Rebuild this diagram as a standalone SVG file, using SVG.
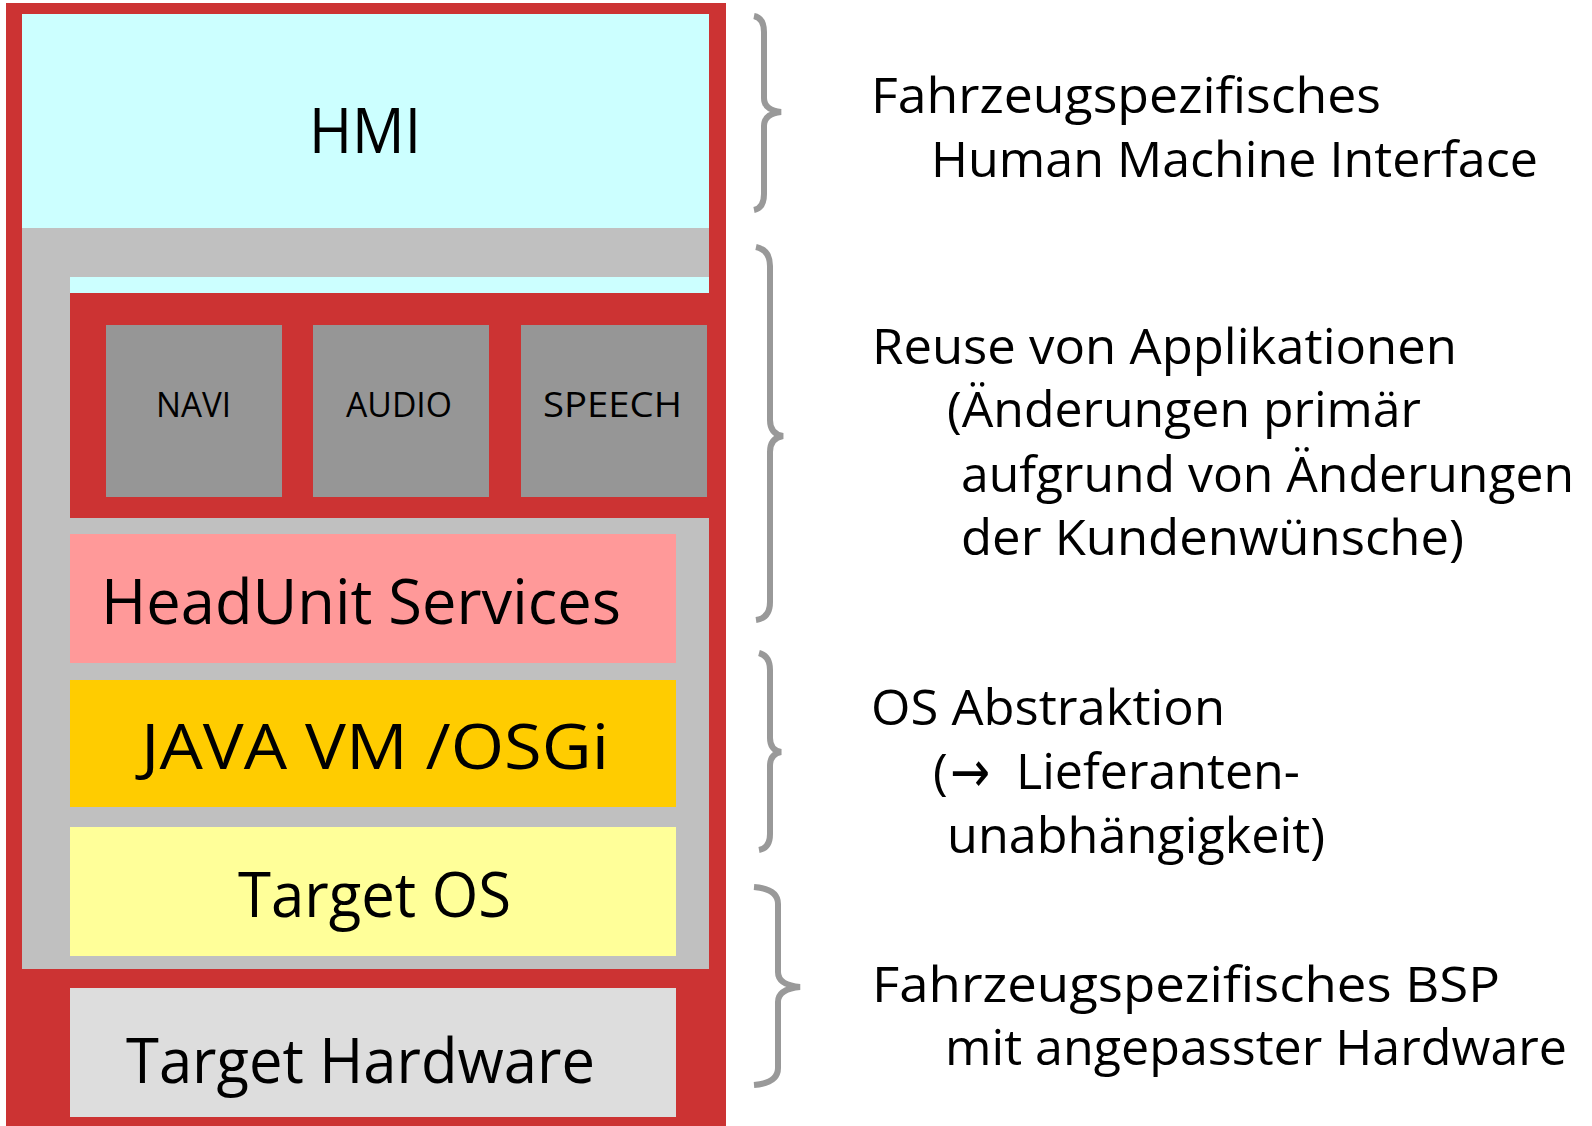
<svg xmlns="http://www.w3.org/2000/svg" width="1592" height="1126" viewBox="0 0 1592 1126">
<style>
.t{font-family:"Open Sans","Liberation Sans",sans-serif;fill:#000;}
.big{font-size:63px;}
.app{font-size:35px;}
.side{font-size:50px;}
.arrow{font-family:"DejaVu Sans",sans-serif;font-size:58px;}
.brace{fill:none;stroke:#999999;stroke-width:6;stroke-linecap:butt;}
</style>
<rect width="1592" height="1126" fill="#ffffff"/>
<g id="frame">
<rect x="6" y="3" width="720" height="1123" fill="#CC3333"/>
</g>
<g id="hmi">
<rect x="22" y="14" width="687" height="279" fill="#CCFFFF"/>
<text class="t big" x="309" y="153" textLength="112" lengthAdjust="spacingAndGlyphs">HMI</text>
</g>
<g id="middleware-frame">
<rect x="22" y="228" width="687" height="49" fill="#C0C0C0"/>
<rect x="22" y="277" width="48" height="241" fill="#C0C0C0"/>
<rect x="22" y="518" width="687" height="451" fill="#C0C0C0"/>
</g>
<g id="navi">
<rect x="106" y="325" width="176" height="172" fill="#969696"/>
<text class="t app" x="156" y="417" textLength="75" lengthAdjust="spacingAndGlyphs">NAVI</text>
</g>
<g id="audio">
<rect x="313" y="325" width="176" height="172" fill="#969696"/>
<text class="t app" x="346" y="417" textLength="106" lengthAdjust="spacingAndGlyphs">AUDIO</text>
</g>
<g id="speech">
<rect x="521" y="325" width="186" height="172" fill="#969696"/>
<text class="t app" x="543" y="417" textLength="139" lengthAdjust="spacingAndGlyphs">SPEECH</text>
</g>
<g id="headunit-services">
<rect x="70" y="534" width="606" height="129" fill="#FF9999"/>
<text class="t big" x="101" y="624" textLength="520" lengthAdjust="spacingAndGlyphs">HeadUnit Services</text>
</g>
<g id="java-vm">
<rect x="70" y="680" width="606" height="127" fill="#FFCC00"/>
<text class="t big" x="141" y="769" textLength="468" lengthAdjust="spacingAndGlyphs">JAVA VM /OSGi</text>
</g>
<g id="target-os">
<rect x="70" y="827" width="606" height="129" fill="#FFFF99"/>
<text class="t big" x="238" y="917" textLength="273" lengthAdjust="spacingAndGlyphs">Target OS</text>
</g>
<g id="target-hardware">
<rect x="70" y="988" width="606" height="129" fill="#DDDDDD"/>
<text class="t big" x="126" y="1083" textLength="469" lengthAdjust="spacingAndGlyphs">Target Hardware</text>
</g>
<g id="connectors">
<path class="brace" d="M754,16 Q764,18 764,32 L764,98 Q764,110 781,112 Q764,114 764,126 L764,194 Q764,208 754,210"/>
<path class="brace" d="M756,247 Q770,250 770,266 L770,420 Q770,434 783,436 Q770,438 770,452 L770,602 Q770,618 756,620"/>
<path class="brace" d="M759,653 Q770,656 770,670 L770,738 Q770,750 781,752 Q770,754 770,766 L770,834 Q770,848 759,850"/>
<path class="brace" d="M754,887 Q778,889 778,904 L778,972 Q778,985 800,987 Q778,989 778,1002 L778,1068 Q778,1083 754,1085"/>
</g>
<g id="label-hmi">
<text class="t side" x="871" y="113" textLength="510" lengthAdjust="spacingAndGlyphs">Fahrzeugspezifisches</text>
<text class="t side" x="931" y="177" textLength="607" lengthAdjust="spacingAndGlyphs">Human Machine Interface</text>
</g>
<g id="label-reuse">
<text class="t side" x="872" y="364" textLength="585" lengthAdjust="spacingAndGlyphs">Reuse von Applikationen</text>
<text class="t side" x="947" y="427" textLength="474" lengthAdjust="spacingAndGlyphs">(Änderungen primär</text>
<text class="t side" x="961" y="492" textLength="613" lengthAdjust="spacingAndGlyphs">aufgrund von Änderungen</text>
<text class="t side" x="961" y="555" textLength="503" lengthAdjust="spacingAndGlyphs">der Kundenwünsche)</text>
</g>
<g id="label-os">
<text class="t side" x="933" y="789">(</text>
<text class="t arrow" x="950" y="792" textLength="40" lengthAdjust="spacingAndGlyphs">→</text>
<text class="t side" x="871" y="725" textLength="354" lengthAdjust="spacingAndGlyphs">OS Abstraktion</text>
<text class="t side" x="1016" y="789" textLength="284" lengthAdjust="spacingAndGlyphs">Lieferanten-</text>
<text class="t side" x="947" y="853" textLength="378" lengthAdjust="spacingAndGlyphs">unabhängigkeit)</text>
</g>
<g id="label-bsp">
<text class="t side" x="872" y="1002" textLength="628" lengthAdjust="spacingAndGlyphs">Fahrzeugspezifisches BSP</text>
<text class="t side" x="945" y="1065" textLength="622" lengthAdjust="spacingAndGlyphs">mit angepasster Hardware</text>
</g>
</svg>
